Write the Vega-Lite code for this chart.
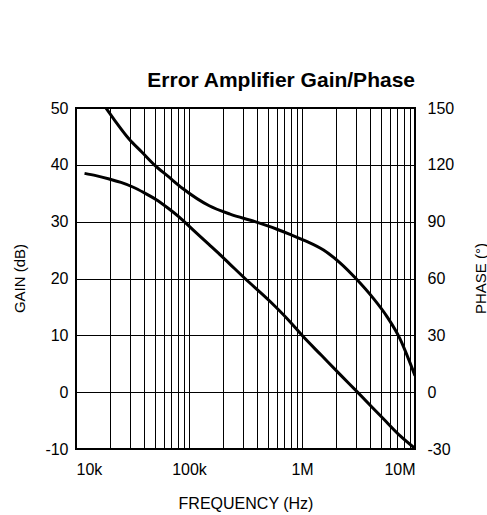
{
  "$schema": "https://vega.github.io/schema/vega-lite/v6.json",
  "autosize": {"type": "none"},
  "width": 339,
  "height": 341,
  "padding": {"left": 76, "top": 108, "right": 72, "bottom": 66},
  "background": "white",
  "title": {
    "text": "Error Amplifier Gain/Phase",
    "anchor": "end",
    "frame": "group",
    "font": "Liberation Sans",
    "fontSize": 21,
    "fontWeight": "bold",
    "color": "black",
    "baseline": "alphabetic",
    "offset": -8
  },
  "config": {
    "view": {"stroke": "black", "strokeWidth": 2},
    "axis": {
      "domain": false,
      "ticks": false,
      "grid": true,
      "gridColor": "black",
      "gridWidth": 1,
      "gridOpacity": 1,
      "labelFont": "Liberation Sans",
      "labelFontSize": 15,
      "labelColor": "black",
      "titleFont": "Liberation Sans",
      "titleFontSize": 15,
      "titleFontWeight": "normal",
      "titleColor": "black"
    }
  },
  "datasets": {
    "gain": [
      {"f": 11900, "gain": 38.5},
      {"f": 15000, "gain": 38.1},
      {"f": 19700, "gain": 37.5},
      {"f": 25000, "gain": 36.9},
      {"f": 31800, "gain": 36.1},
      {"f": 40000, "gain": 35.1},
      {"f": 51000, "gain": 33.9},
      {"f": 65000, "gain": 32.4},
      {"f": 82000, "gain": 30.8},
      {"f": 108000, "gain": 28.6},
      {"f": 150000, "gain": 26.0},
      {"f": 188000, "gain": 24.2},
      {"f": 231000, "gain": 22.5},
      {"f": 313000, "gain": 20.0},
      {"f": 520000, "gain": 16.0},
      {"f": 783000, "gain": 12.4},
      {"f": 1000000, "gain": 10.0},
      {"f": 1500000, "gain": 6.4},
      {"f": 2200000, "gain": 3.0},
      {"f": 3100000, "gain": 0.0},
      {"f": 5200000, "gain": -4.6},
      {"f": 7400000, "gain": -7.7},
      {"f": 10000000, "gain": -9.9}
    ],
    "phase": [
      {"f": 18400, "phase": 150},
      {"f": 22000, "phase": 143.5},
      {"f": 29600, "phase": 133.5},
      {"f": 38000, "phase": 126.9},
      {"f": 49300, "phase": 120},
      {"f": 65000, "phase": 114},
      {"f": 88000, "phase": 107.5},
      {"f": 151000, "phase": 98.4},
      {"f": 231000, "phase": 94},
      {"f": 384000, "phase": 90},
      {"f": 600000, "phase": 86},
      {"f": 783000, "phase": 83.3},
      {"f": 1060000, "phase": 80},
      {"f": 1550000, "phase": 75},
      {"f": 2170000, "phase": 68.3},
      {"f": 3000000, "phase": 60},
      {"f": 4280000, "phase": 49.5},
      {"f": 5630000, "phase": 40},
      {"f": 7370000, "phase": 28.1},
      {"f": 8700000, "phase": 18},
      {"f": 10000000, "phase": 8.7}
    ]
  },
  "layer": [
    {
      "data": {"name": "gain"},
      "mark": {"type": "line", "color": "black", "strokeWidth": 3, "interpolate": "monotone", "clip": true},
      "encoding": {
        "x": {
          "field": "f",
          "type": "quantitative",
          "scale": {"type": "log", "domain": [10000, 10000000], "nice": false},
          "axis": {
            "title": "FREQUENCY (Hz)",
            "titleFontSize": 16,
            "titlePadding": 18,
            "labelPadding": 12,
            "values": [10000, 20000, 30000, 40000, 50000, 60000, 70000, 80000, 90000, 100000, 200000, 300000, 400000, 500000, 600000, 700000, 800000, 900000, 1000000, 2000000, 3000000, 4000000, 5000000, 6000000, 7000000, 8000000, 9000000, 10000000],
            "labelExpr": "datum.value == 10000 ? '10k' : datum.value == 100000 ? '100k' : datum.value == 1000000 ? '1M' : datum.value == 10000000 ? '10M' : ''",
            "labelOverlap": false,
            "labelFontSize": 16
          }
        },
        "y": {
          "field": "gain",
          "type": "quantitative",
          "scale": {"domain": [-10, 50], "nice": false, "zero": false},
          "axis": {
            "title": "GAIN (dB)",
            "values": [-10, 0, 10, 20, 30, 40, 50],
            "labelExpr": "datum.value + ''",
            "labelPadding": 8,
            "labelFontSize": 16,
            "titleAngle": -90,
            "titleBaseline": "middle",
            "titleX": -57,
            "titleY": 170
          }
        }
      }
    },
    {
      "data": {"name": "phase"},
      "mark": {"type": "line", "color": "black", "strokeWidth": 3, "interpolate": "monotone", "clip": true},
      "encoding": {
        "x": {"field": "f", "type": "quantitative"},
        "y": {
          "field": "phase",
          "type": "quantitative",
          "scale": {"domain": [-30, 150], "nice": false, "zero": false},
          "axis": {
            "orient": "right",
            "title": "PHASE (°)",
            "grid": false,
            "values": [-30, 0, 30, 60, 90, 120, 150],
            "labelExpr": "datum.value + ''",
            "labelPadding": 12,
            "labelFontSize": 16,
            "titleAngle": -90,
            "titleBaseline": "middle",
            "titleX": 65,
            "titleY": 170
          }
        }
      }
    }
  ],
  "resolve": {"scale": {"y": "independent"}}
}
